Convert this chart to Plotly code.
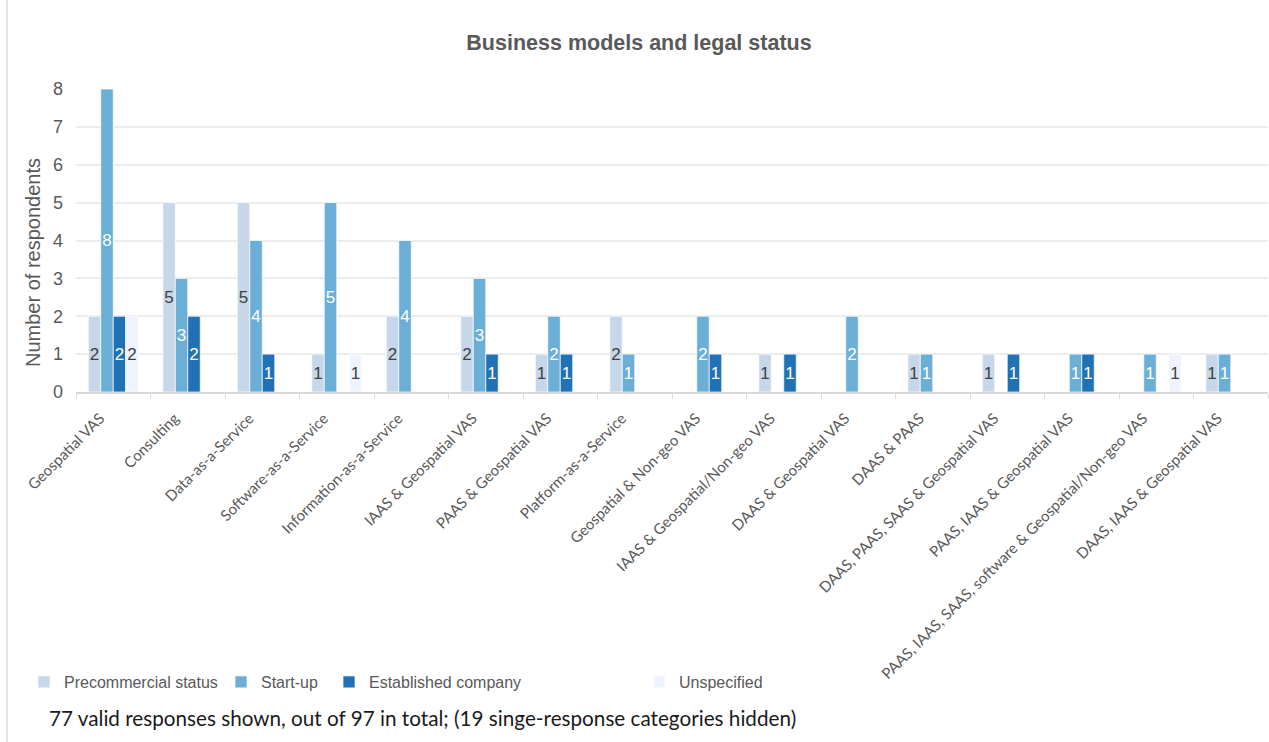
import plotly.graph_objects as go

categories = [
    "Geospatial VAS", "Consulting", "Data-as-a-Service", "Software-as-a-Service",
    "Information-as-a-Service", "IAAS & Geospatial VAS", "PAAS & Geospatial VAS",
    "Platform-as-a-Service", "Geospatial & Non-geo VAS", "IAAS & Geospatial/Non-geo VAS",
    "DAAS & Geospatial VAS", "DAAS & PAAS", "DAAS, PAAS, SAAS & Geospatial VAS",
    "PAAS, IAAS & Geospatial VAS", "PAAS, IAAS, SAAS, software & Geospatial/Non-geo VAS",
    "DAAS, IAAS & Geospatial VAS",
]
precommercial = [2, 5, 5, 1, 2, 2, 1, 2, None, 1, None, 1, 1, None, None, 1]
startup = [8, 3, 4, 5, 4, 3, 2, 1, 2, None, 2, 1, None, 1, 1, 1]
established = [2, 2, 1, None, None, 1, 1, None, 1, 1, None, None, 1, 1, None, None]
unspecified = [2, None, None, 1, None, None, None, None, None, None, None, None, None, None, 1, None]

series = [
    ("Precommercial status", precommercial, "#c5d7e8", "#404040"),
    ("Start-up", startup, "#6baed6", "#ffffff"),
    ("Established company", established, "#2171b5", "#ffffff"),
    ("Unspecified", unspecified, "#eef3fd", "#404040"),
]

W, H = 1269, 742
L, R, T, B = 76, 1, 89, 350
pw, ph = W - L - R, H - T - B

def px2x(px):
    return (px - L) / pw

def py2y(py):
    return (H - B - py) / ph

legend_text_x = [64, 261, 369, 679]

fig = go.Figure()
for i, (name, vals, color, tcol) in enumerate(series):
    fig.add_trace(go.Bar(
        name=name, x=categories, y=vals,
        marker=dict(color=color, line=dict(color="rgba(255,255,255,0.7)", width=1)),
        text=[str(v) if v else "" for v in vals],
        textposition="inside", insidetextanchor="middle", textangle=0,
        constraintext="none",
        textfont=dict(family="Liberation Sans, Arial", size=17, color=tcol),
        legend="legend" if i == 0 else f"legend{i+1}",
        showlegend=True,
        hoverinfo="x+y+name",
    ))

leg_common = dict(orientation="h", yanchor="middle", xanchor="left",
                  font=dict(family="Liberation Sans, Arial", size=16, color="#595959"),
                  bgcolor="rgba(0,0,0,0)", visible=True)
legends = {}
for i, tx in enumerate(legend_text_x):
    key = "legend" if i == 0 else f"legend{i+1}"
    legends[key] = dict(leg_common, x=px2x(tx - 40), y=py2y(682))

fig.update_layout(
    width=W, height=H,
    showlegend=True,
    margin=dict(l=L, r=R, t=T, b=B, autoexpand=False),
    paper_bgcolor="white", plot_bgcolor="white",
    barmode="group", bargap=0.33, bargroupgap=0,
    title=dict(text="<b>Business models and legal status</b>", x=639 / W, xanchor="center",
               y=1 - 42 / H, yanchor="middle",
               font=dict(family="Liberation Sans, Arial", size=21.5, color="#595959")),
    xaxis=dict(
        tickangle=-45, tickson="boundaries", ticks="outside", ticklen=5, tickcolor="#d9d9d9",
        showline=True, linecolor="#d9d9d9", linewidth=1.5, showgrid=False,
        ticklabelstandoff=10, ticklabelshift=-13,
        tickfont=dict(family="Lato, Carlito, sans-serif", size=15, color="#595959"),
    ),
    yaxis=dict(
        range=[0, 8], dtick=1, showgrid=True, gridcolor="#ececec", gridwidth=1.5,
        zeroline=False, showline=False, ticks="", ticklabelstandoff=12,
        tickfont=dict(family="Liberation Sans, Arial", size=18, color="#595959"),
    ),
    annotations=[
        dict(text="Number of respondents", textangle=-90,
             xref="paper", yref="paper", x=px2x(33), y=py2y(263),
             xanchor="center", yanchor="middle", showarrow=False,
             font=dict(family="Liberation Sans, Arial", size=20, color="#595959")),
        dict(text="77 valid responses shown, out of 97 in total; (19 singe-response categories hidden)",
             xref="paper", yref="paper", x=px2x(47), y=py2y(718), xanchor="left", yanchor="middle",
             showarrow=False,
             font=dict(family="Lato, Carlito, sans-serif", size=20.7, color="#1a1a1a")),
    ],
    shapes=[dict(type="line", xref="paper", yref="paper", x0=px2x(7), x1=px2x(7),
                 y0=py2y(0), y1=py2y(742), line=dict(color="#d9d9d9", width=1.5))],
    **legends,
)

fig.write_html("out.html")
